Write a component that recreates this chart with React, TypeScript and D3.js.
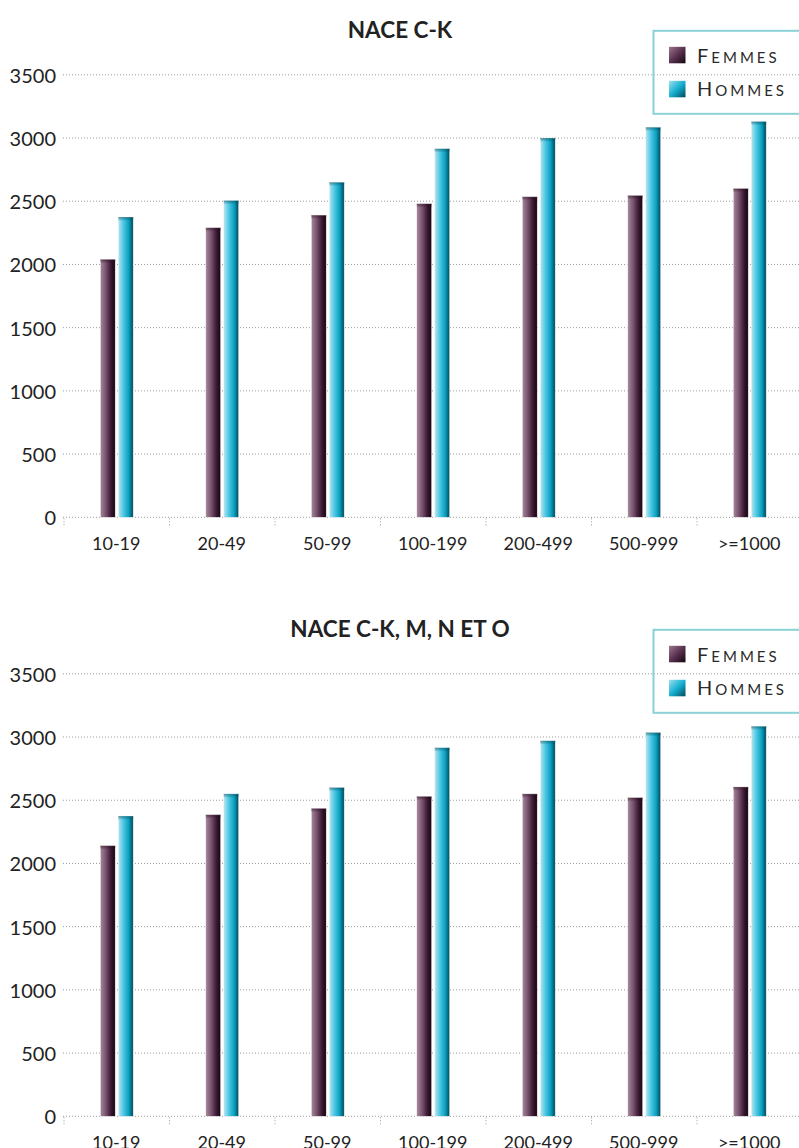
import React from "react";
import * as d3 from "d3";

// Size classes (number of employees)
const categories = ["10-19", "20-49", "50-99", "100-199", "200-499", "500-999", ">=1000"];

// NACE C-K
const femmesCK = [2040, 2290, 2390, 2480, 2535, 2545, 2600];
const hommesCK = [2375, 2505, 2650, 2915, 3000, 3085, 3130];

// NACE C-K, M, N et O
const femmesCKMNO = [2140, 2385, 2435, 2530, 2550, 2520, 2605];
const hommesCKMNO = [2375, 2550, 2600, 2915, 2970, 3035, 3085];

const yTicks = [0, 500, 1000, 1500, 2000, 2500, 3000, 3500];

const W = 799;
const H = 1148;
const FONT = "Lato, 'Open Sans', 'Liberation Sans', sans-serif";

type PanelProps = {
  title: string;
  femmes: number[];
  hommes: number[];
  top: number;
};

function Legend({ top }: { top: number }) {
  const x0 = 653.5;
  return (
    <g>
      <rect x={x0} y={top} width={170} height={83} fill="none" stroke="#8ad2d6" strokeWidth={2} />
      <rect x={669} y={top + 16} width={16.5} height={16.5} fill="url(#swF)" />
      <rect x={669} y={top + 50} width={16.5} height={16.5} fill="url(#swH)" />
      <text x={697} y={top + 32} fill="#2a2a2a" fontFamily={FONT} letterSpacing={3}>
        <tspan fontSize={20}>F</tspan>
        <tspan fontSize={15}>EMMES</tspan>
      </text>
      <text x={697} y={top + 65.5} fill="#2a2a2a" fontFamily={FONT} letterSpacing={3}>
        <tspan fontSize={20}>H</tspan>
        <tspan fontSize={15}>OMMES</tspan>
      </text>
    </g>
  );
}

function Panel({ title, femmes, hommes, top }: PanelProps) {
  const zeroY = top + 442.5;
  const y = d3.scaleLinear().domain([0, 3500]).range([zeroY, top]);
  const x = d3
    .scaleBand<string>()
    .domain(categories)
    .range([63.5, 63.5 + 7 * 105.5])
    .paddingInner(0)
    .paddingOuter(0);
  const half = x.bandwidth() / 2;
  const barW = 15;

  const bar = (v: number, left: number, fill: string, cap: string, key: string) => {
    const yt = y(v);
    const h = zeroY - yt;
    return (
      <g key={key}>
        <rect x={left} y={yt} width={barW} height={h} fill={fill} stroke="#f4f4f4" strokeWidth={0.6} />
        <rect x={left} y={yt} width={barW} height={4} fill={cap} />
      </g>
    );
  };

  return (
    <g>
      <text
        x={400}
        y={top - 37}
        textAnchor="middle"
        fontFamily={FONT}
        fontWeight="bold"
        fontSize={22.5}
        fill="#222"
      >
        {title}
      </text>

      {/* horizontal dotted gridlines */}
      {yTicks.map((t) => (
        <line
          key={"g" + t}
          x1={63}
          x2={W}
          y1={y(t)}
          y2={y(t)}
          stroke="#9a9a9a"
          strokeWidth={1}
          strokeDasharray="1 2"
        />
      ))}

      {/* y tick labels */}
      {yTicks.map((t) => (
        <text
          key={"l" + t}
          x={56}
          y={y(t) + 8}
          textAnchor="end"
          fontFamily={FONT}
          fontSize={20}
          fill="#222"
        >
          {t}
        </text>
      ))}

      {/* x tick marks at band boundaries */}
      {categories.map((c) => (
        <line
          key={"t" + c}
          x1={(x(c) as number) + 0.5}
          x2={(x(c) as number) + 0.5}
          y1={zeroY + 1}
          y2={zeroY + 8}
          stroke="#9a9a9a"
          strokeWidth={1}
          strokeDasharray="1 2"
        />
      ))}

      {/* x labels */}
      {categories.map((c) => (
        <text
          key={"x" + c}
          x={(x(c) as number) + half}
          y={zeroY + 33}
          textAnchor="middle"
          fontFamily={FONT}
          fontSize={18}
          fill="#222"
        >
          {c}
        </text>
      ))}

      {/* bars */}
      {categories.map((c, i) => {
        const cx = (x(c) as number) + half;
        return (
          <g key={"b" + c}>
            {bar(femmes[i], cx - 16, "url(#gradF)", "url(#capF)", "f")}
            {bar(hommes[i], cx + 2, "url(#gradH)", "url(#capH)", "h")}
          </g>
        );
      })}

      <Legend top={top - 44} />
    </g>
  );
}

export default function App() {
  return (
    <div style={{ position: "absolute", left: 0, top: 0, width: W, height: H, background: "#fff" }}>
      <svg width={W} height={H} viewBox={`0 0 ${W} ${H}`} style={{ display: "block" }}>
        <defs>
          <linearGradient id="gradF" x1="0" x2="1" y1="0" y2="0">
            <stop offset="0" stopColor="#a7899b" />
            <stop offset="0.35" stopColor="#7a5570" />
            <stop offset="0.7" stopColor="#3e1a36" />
            <stop offset="1" stopColor="#12040e" />
          </linearGradient>
          <linearGradient id="gradH" x1="0" x2="1" y1="0" y2="0">
            <stop offset="0" stopColor="#b6e6f3" />
            <stop offset="0.35" stopColor="#4cc6e2" />
            <stop offset="0.7" stopColor="#0aa0c0" />
            <stop offset="1" stopColor="#004656" />
          </linearGradient>
          <linearGradient id="capF" x1="0" x2="0" y1="0" y2="1">
            <stop offset="0" stopColor="#2a0c22" stopOpacity={0.55} />
            <stop offset="1" stopColor="#2a0c22" stopOpacity={0} />
          </linearGradient>
          <linearGradient id="capH" x1="0" x2="0" y1="0" y2="1">
            <stop offset="0" stopColor="#00495a" stopOpacity={0.55} />
            <stop offset="1" stopColor="#00495a" stopOpacity={0} />
          </linearGradient>
          <linearGradient id="swF" x1="0" x2="1" y1="0" y2="1">
            <stop offset="0" stopColor="#9c7890" />
            <stop offset="0.5" stopColor="#5a3250" />
            <stop offset="1" stopColor="#14040f" />
          </linearGradient>
          <linearGradient id="swH" x1="0" x2="1" y1="0" y2="1">
            <stop offset="0" stopColor="#9fe0f0" />
            <stop offset="0.5" stopColor="#16b0d2" />
            <stop offset="1" stopColor="#004a5c" />
          </linearGradient>
        </defs>
        <Panel title="NACE C-K" femmes={femmesCK} hommes={hommesCK} top={74.8} />
        <Panel title="NACE C-K, M, N ET O" femmes={femmesCKMNO} hommes={hommesCKMNO} top={673.8} />
      </svg>
    </div>
  );
}
